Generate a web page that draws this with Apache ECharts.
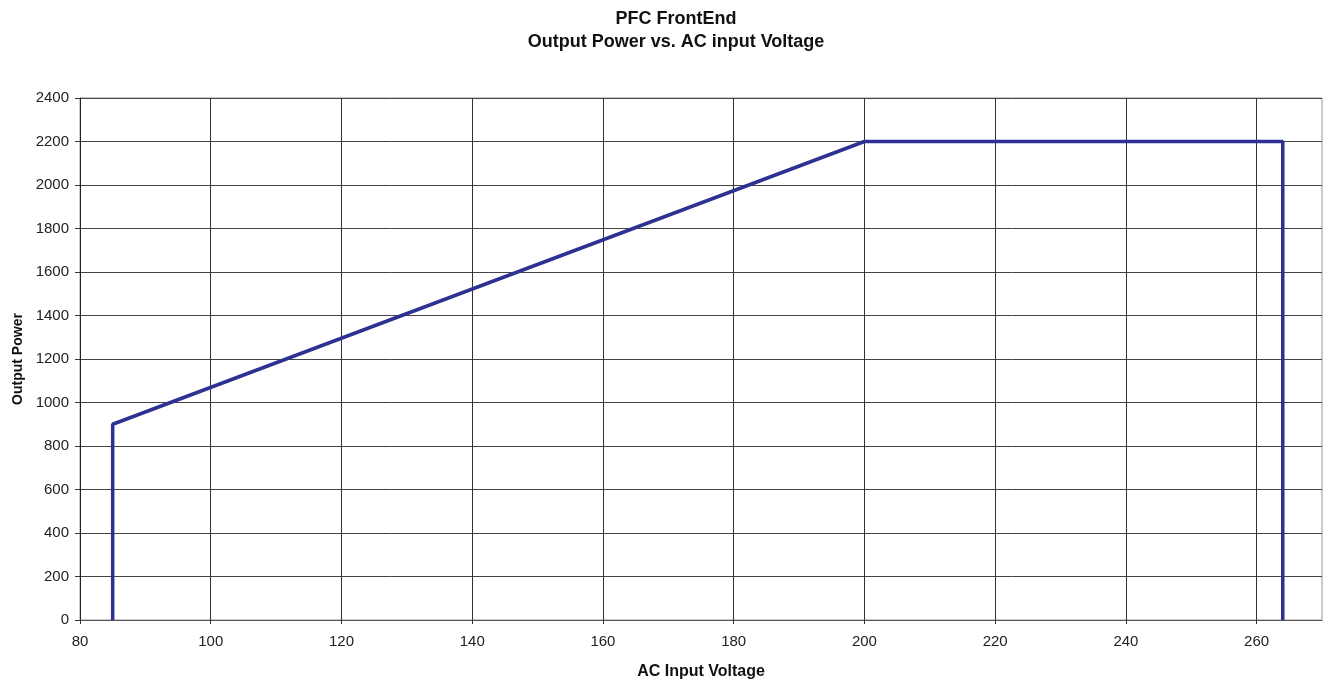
<!DOCTYPE html>
<html><head><meta charset="utf-8">
<script src="https://cdn.jsdelivr.net/npm/echarts@6/dist/echarts.min.js"></script>
<style>html,body{margin:0;padding:0;background:#fff}#c{width:1326px;height:685px}</style>
</head><body><div id="c"></div>
<script>
const voltage = [85, 85, 200, 264, 264];
const power = [0, 900, 2200, 2200, 0];
const xTicks = [80, 100, 120, 140, 160, 180, 200, 220, 240, 260];
const yTicks = [0, 200, 400, 600, 800, 1000, 1200, 1400, 1600, 1800, 2000, 2200, 2400];

const font = '"Liberation Sans", Arial, sans-serif';
const chart = echarts.init(document.getElementById('c'), null, {renderer: 'canvas'});
chart.setOption({
  animation: false,
  backgroundColor: '#fff',
  title: [
    {text: 'PFC FrontEnd', left: 671, top: 5, textAlign: 'center',
     textStyle: {fontFamily: font, fontSize: 18, fontWeight: 'bold', color: '#111'}},
    {text: 'Output Power vs. AC input Voltage', left: 671, top: 28, textAlign: 'center',
     textStyle: {fontFamily: font, fontSize: 18, fontWeight: 'bold', color: '#111'}}
  ],
  grid: {left: 80, right: 4, top: 98, bottom: 64, show: true, borderColor: '#999', borderWidth: 1},
  xAxis: {
    type: 'value', min: 80, max: 270, interval: 20,
    name: 'AC Input Voltage', nameLocation: 'middle', nameGap: 44,
    nameTextStyle: {fontFamily: font, fontSize: 16, fontWeight: 'bold', color: '#111'},
    axisLine: {show: true, lineStyle: {color: '#555', width: 1}},
    axisTick: {show: true, length: 4, lineStyle: {color: '#333'}, customValues: xTicks},
    axisLabel: {fontFamily: font, fontSize: 15, color: '#222', margin: 14, customValues: xTicks},
    splitLine: {show: true, lineStyle: {color: '#333', width: 1}}
  },
  yAxis: {
    type: 'value', min: 0, max: 2400, interval: 200,
    name: 'Output Power', nameLocation: 'middle', nameGap: 55,
    nameTextStyle: {fontFamily: font, fontSize: 14, fontWeight: 'bold', color: '#111'},
    axisLine: {show: true, lineStyle: {color: '#222', width: 1}},
    axisTick: {show: true, length: 5, lineStyle: {color: '#333'}},
    axisLabel: {fontFamily: font, fontSize: 15, color: '#222', margin: 11,
      formatter: v => yTicks.includes(v) ? String(v) : ''},
    splitLine: {show: true, lineStyle: {color: '#444', width: 1}}
  },
  series: [{
    type: 'line',
    data: voltage.map((v, i) => [v, power[i]]),
    showSymbol: false,
    lineStyle: {color: '#2e3192', width: 3.5},
    itemStyle: {color: '#2e3192'}
  }]
});
</script></body></html>
